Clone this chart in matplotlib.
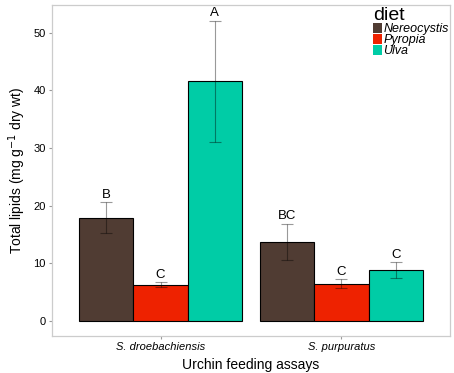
import numpy as np
import matplotlib
matplotlib.use("Agg")
import matplotlib.pyplot as plt
from matplotlib.patches import Patch

plt.rcParams["font.family"] = ["Liberation Sans", "DejaVu Sans"]

species = ["S. droebachiensis", "S. purpuratus"]
diets = ["Nereocystis", "Pyropia", "Ulva"]
colors = ["#503C33", "#EE2200", "#00CCA6"]

means = {
    "Nereocystis": [17.8, 13.7],
    "Pyropia": [6.25, 6.5],
    "Ulva": [41.6, 8.85],
}
err_lo = {
    "Nereocystis": [15.2, 10.6],
    "Pyropia": [5.85, 5.8],
    "Ulva": [31.1, 7.5],
}
err_hi = {
    "Nereocystis": [20.6, 16.8],
    "Pyropia": [6.7, 7.25],
    "Ulva": [52.1, 10.2],
}
letters = {
    "Nereocystis": ["B", "BC"],
    "Pyropia": ["C", "C"],
    "Ulva": ["A", "C"],
}

fig = plt.figure(figsize=(4.54, 3.73), dpi=100)
ax = fig.add_axes([0.1145, 0.0992, 0.8765, 0.8874])

x = np.arange(1, len(species) + 1)
bw = 0.3
for i, d in enumerate(diets):
    xs = x + (i - 1) * bw
    m = np.array(means[d])
    ax.bar(xs, m, width=bw, color=colors[i], edgecolor="black", linewidth=0.8, zorder=2)
    lo = m - np.array(err_lo[d])
    hi = np.array(err_hi[d]) - m
    ax.errorbar(xs, m, yerr=[lo, hi], fmt="none", ecolor=(0, 0, 0, 0.4),
                elinewidth=0.8, capsize=4.3, capthick=0.8, zorder=3)
    for xx, top, lab in zip(xs, err_hi[d], letters[d]):
        ax.annotate(lab, (xx, top), xytext=(0, 1.2), textcoords="offset points",
                    ha="center", va="bottom", fontsize=9.5, color="black")

ax.set_xlim(0.4, 2.6)
ax.set_ylim(-2.6, 54.8)
ax.set_xticks(x)
ax.set_xticklabels(species, style="italic", fontsize=8)
ax.set_yticks([0, 10, 20, 30, 40, 50])
ax.tick_params(axis="y", labelsize=8)
ax.tick_params(axis="both", color="#999999", length=2.5, width=0.8, labelcolor="black", pad=2)
for s in ax.spines.values():
    s.set_color("#CCCCCC")
    s.set_linewidth(0.9)

ax.set_xlabel("Urchin feeding assays", fontsize=10, labelpad=4)
ax.set_ylabel("Total lipids (mg g$^{-1}$ dry wt)", fontsize=10, labelpad=4)

handles = [Patch(facecolor=c, edgecolor="none") for c in colors]
leg = ax.legend(handles, diets, title="diet", loc="upper left",
                bbox_to_anchor=(0.80, 1.0), frameon=False,
                prop={"style": "italic", "size": 9}, title_fontsize=14,
                handlelength=0.7, handleheight=0.8, handletextpad=0.15,
                labelspacing=-0.1, borderaxespad=0.2, borderpad=0.0)
leg._legend_box.align = "left"

fig.savefig("out.png", dpi=100)
